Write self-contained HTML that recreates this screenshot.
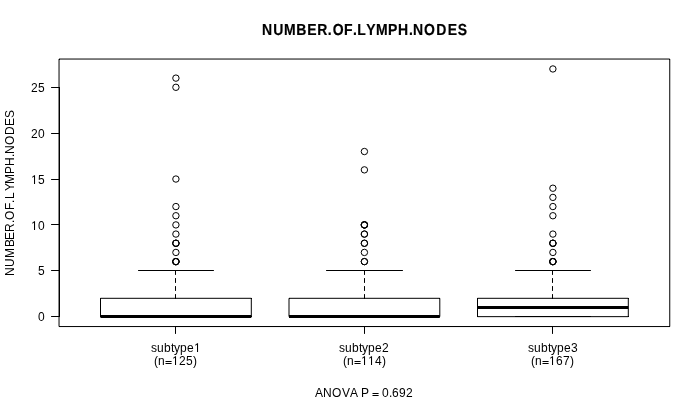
<!DOCTYPE html>
<html><head><meta charset="utf-8"><style>
html,body{margin:0;padding:0;background:#fff;overflow:hidden;}
svg{display:block;will-change:transform;}
text{font-family:"Liberation Sans",sans-serif;font-size:12px;fill:#000;}
.ttl{font-weight:bold;font-size:14.0px;text-rendering:geometricPrecision;stroke:#000;stroke-width:0.15px;}
line{stroke:#000;stroke-linecap:round;fill:none;}
.bx{fill:none;stroke:#000;stroke-width:1;stroke-linejoin:round;}
.pt{fill:none;stroke:#000;stroke-width:1.0;}
</style></head><body>
<svg width="700" height="400" viewBox="0 0 700 400">
<rect width="700" height="400" fill="#fff"/>
<rect x="100.51" y="298.3" width="150.8" height="18.35" class="bx"/>
<line x1="175.5" y1="298.5" x2="175.5" y2="270.5" stroke-width="1" stroke-dasharray="4 4"/>
<line x1="138.5" y1="270.5" x2="213.5" y2="270.5" stroke-width="1"/>
<line x1="138.5" y1="316.5" x2="213.5" y2="316.5" stroke-width="1"/>
<line x1="100.51" y1="316.5" x2="251.3" y2="316.5" stroke-width="3" style="stroke-linecap:butt"/>
<circle cx="175.91" cy="78.12" r="3.2" class="pt"/>
<circle cx="175.91" cy="87.3" r="3.2" class="pt"/>
<circle cx="175.91" cy="179.04" r="3.2" class="pt"/>
<circle cx="175.91" cy="206.56" r="3.2" class="pt"/>
<circle cx="175.91" cy="215.74" r="3.2" class="pt"/>
<circle cx="175.91" cy="224.91" r="3.2" class="pt"/>
<circle cx="175.91" cy="234.08" r="3.2" class="pt"/>
<circle cx="175.91" cy="243.26" r="3.2" class="pt"/>
<circle cx="175.91" cy="243.26" r="3.2" class="pt"/>
<circle cx="175.91" cy="243.26" r="3.2" class="pt"/>
<circle cx="175.91" cy="252.43" r="3.2" class="pt"/>
<circle cx="175.91" cy="261.61" r="3.2" class="pt"/>
<circle cx="175.91" cy="261.61" r="3.2" class="pt"/>
<circle cx="175.91" cy="261.61" r="3.2" class="pt"/>
<circle cx="175.91" cy="261.61" r="3.2" class="pt"/>
<line x1="175.5" y1="326.5" x2="175.5" y2="333.5" stroke-width="1"/>
<g transform="translate(194,352)"><path d="M3,-8.7H4.05V0H3V-7.2Q2.2,-6.5 1.1,-6.4V-7.2Q2.5,-7.5 3,-8.7Z"/></g>
<text x="151 157 164 171 174 180 187" y="352">subtype</text>
<g transform="translate(165,365)"><path d="M0.5,-4H6.6V-3H0.5ZM0.5,-2H6.6V-1H0.5Z"/></g>
<g transform="translate(172,365)"><path d="M3,-8.7H4.05V0H3V-7.2Q2.2,-6.5 1.1,-6.4V-7.2Q2.5,-7.5 3,-8.7Z"/></g>
<text x="154 158 179 186 193" y="365">(n25)</text>
<rect x="289" y="298.3" width="150.8" height="18.35" class="bx"/>
<line x1="364.5" y1="298.5" x2="364.5" y2="270.5" stroke-width="1" stroke-dasharray="4 4"/>
<line x1="326.5" y1="270.5" x2="402.5" y2="270.5" stroke-width="1"/>
<line x1="326.5" y1="316.5" x2="402.5" y2="316.5" stroke-width="1"/>
<line x1="289" y1="316.5" x2="439.8" y2="316.5" stroke-width="3" style="stroke-linecap:butt"/>
<circle cx="364.4" cy="151.52" r="3.2" class="pt"/>
<circle cx="364.4" cy="169.86" r="3.2" class="pt"/>
<circle cx="364.4" cy="224.91" r="3.2" class="pt"/>
<circle cx="364.4" cy="224.91" r="3.2" class="pt"/>
<circle cx="364.4" cy="224.91" r="3.2" class="pt"/>
<circle cx="364.4" cy="224.91" r="3.2" class="pt"/>
<circle cx="364.4" cy="234.08" r="3.2" class="pt"/>
<circle cx="364.4" cy="234.08" r="3.2" class="pt"/>
<circle cx="364.4" cy="243.26" r="3.2" class="pt"/>
<circle cx="364.4" cy="243.26" r="3.2" class="pt"/>
<circle cx="364.4" cy="252.43" r="3.2" class="pt"/>
<circle cx="364.4" cy="261.61" r="3.2" class="pt"/>
<circle cx="364.4" cy="261.61" r="3.2" class="pt"/>
<line x1="364.5" y1="326.5" x2="364.5" y2="333.5" stroke-width="1"/>
<text x="339 345 352 359 362 368 375 382" y="352">subtype2</text>
<g transform="translate(354,365)"><path d="M0.5,-4H6.6V-3H0.5ZM0.5,-2H6.6V-1H0.5Z"/></g>
<g transform="translate(361,365)"><path d="M3,-8.7H4.05V0H3V-7.2Q2.2,-6.5 1.1,-6.4V-7.2Q2.5,-7.5 3,-8.7Z"/></g>
<g transform="translate(368,365)"><path d="M3,-8.7H4.05V0H3V-7.2Q2.2,-6.5 1.1,-6.4V-7.2Q2.5,-7.5 3,-8.7Z"/></g>
<text x="343 347 375 382" y="365">(n4)</text>
<rect x="477.5" y="298.3" width="150.8" height="18.35" class="bx"/>
<line x1="552.5" y1="298.5" x2="552.5" y2="270.5" stroke-width="1" stroke-dasharray="4 4"/>
<line x1="515.5" y1="270.5" x2="590.5" y2="270.5" stroke-width="1"/>
<line x1="515.5" y1="316.5" x2="590.5" y2="316.5" stroke-width="1"/>
<line x1="477.5" y1="307.5" x2="628.29" y2="307.5" stroke-width="3" style="stroke-linecap:butt"/>
<circle cx="552.89" cy="68.95" r="3.2" class="pt"/>
<circle cx="552.89" cy="188.21" r="3.2" class="pt"/>
<circle cx="552.89" cy="197.39" r="3.2" class="pt"/>
<circle cx="552.89" cy="206.56" r="3.2" class="pt"/>
<circle cx="552.89" cy="215.74" r="3.2" class="pt"/>
<circle cx="552.89" cy="234.08" r="3.2" class="pt"/>
<circle cx="552.89" cy="243.26" r="3.2" class="pt"/>
<circle cx="552.89" cy="243.26" r="3.2" class="pt"/>
<circle cx="552.89" cy="243.26" r="3.2" class="pt"/>
<circle cx="552.89" cy="252.43" r="3.2" class="pt"/>
<circle cx="552.89" cy="261.61" r="3.2" class="pt"/>
<circle cx="552.89" cy="261.61" r="3.2" class="pt"/>
<circle cx="552.89" cy="261.61" r="3.2" class="pt"/>
<circle cx="552.89" cy="261.61" r="3.2" class="pt"/>
<line x1="552.5" y1="326.5" x2="552.5" y2="333.5" stroke-width="1"/>
<text x="528 534 541 548 551 557 564 571" y="352">subtype3</text>
<g transform="translate(542,365)"><path d="M0.5,-4H6.6V-3H0.5ZM0.5,-2H6.6V-1H0.5Z"/></g>
<g transform="translate(549,365)"><path d="M3,-8.7H4.05V0H3V-7.2Q2.2,-6.5 1.1,-6.4V-7.2Q2.5,-7.5 3,-8.7Z"/></g>
<text x="531 535 556 563 570" y="365">(n67)</text>
<line x1="59.5" y1="316.5" x2="59.5" y2="87.5" stroke-width="1"/>
<line x1="59.5" y1="316.5" x2="51.5" y2="316.5" stroke-width="1"/>
<text x="38" y="321">0</text>
<line x1="59.5" y1="270.5" x2="51.5" y2="270.5" stroke-width="1"/>
<text x="38" y="275">5</text>
<line x1="59.5" y1="224.5" x2="51.5" y2="224.5" stroke-width="1"/>
<g transform="translate(31,230)"><path d="M3,-8.7H4.05V0H3V-7.2Q2.2,-6.5 1.1,-6.4V-7.2Q2.5,-7.5 3,-8.7Z"/></g>
<text x="38" y="230">0</text>
<line x1="59.5" y1="179.5" x2="51.5" y2="179.5" stroke-width="1"/>
<g transform="translate(31,184)"><path d="M3,-8.7H4.05V0H3V-7.2Q2.2,-6.5 1.1,-6.4V-7.2Q2.5,-7.5 3,-8.7Z"/></g>
<text x="38" y="184">5</text>
<line x1="59.5" y1="133.5" x2="51.5" y2="133.5" stroke-width="1"/>
<text x="31 38" y="138">20</text>
<line x1="59.5" y1="87.5" x2="51.5" y2="87.5" stroke-width="1"/>
<text x="31 38" y="92">25</text>
<line x1="175.5" y1="326.5" x2="552.5" y2="326.5" stroke-width="1"/>
<rect x="59.04" y="59.04" width="610.72" height="267.52" class="bx"/>
<path d="M59,59h1v1h-1zM669,59h1v1h-1zM669,326h1v1h-1zM59,326h1v1h-1zM100,298h1v1h-1zM251,298h1v1h-1zM100,316h1v1h-1zM251,316h1v1h-1zM289,298h1v1h-1zM439,298h1v1h-1zM289,316h1v1h-1zM439,316h1v1h-1zM477,298h1v1h-1zM628,298h1v1h-1zM477,316h1v1h-1zM628,316h1v1h-1z" fill="#000" shape-rendering="crispEdges"/>
<text class="ttl" transform="translate(0,35) scale(1,1.14)" x="261.96 273.16 283.96 296.16 307.16 317.16 327.75 332.63 344.06 352.95 357.16 366.16 376.06 387.96 398.06 408.95 412.96 423.93 436.16 447.66 457.8" y="0">NUMBER.OF.LYMPH.NODES</text>
<text class="rot" transform="translate(14,0) rotate(-90)" x="-276 -267 -258 -247 -240 -232 -223 -220 -210 -203 -199 -191 -184 -174 -166 -157 -154 -145 -135 -126 -118" y="0">NUMBER.OF.LYMPH.NODES</text>
<g transform="translate(372,397)"><path d="M0.5,-4H6.6V-3H0.5ZM0.5,-2H6.6V-1H0.5Z"/></g>
<text x="315 323 332 342 350 361 382 389 392 399 406" y="397">ANOVAP0.692</text>
</svg></body></html>
